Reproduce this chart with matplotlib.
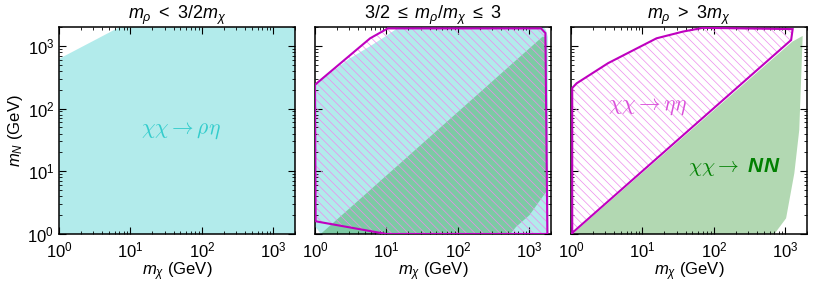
import matplotlib
matplotlib.use("Agg")
import matplotlib.pyplot as plt
import numpy as np

plt.rcParams['font.family'] = ['Liberation Sans', 'DejaVu Sans']
plt.rcParams['mathtext.fontset'] = 'custom'
plt.rcParams['mathtext.rm'] = 'Liberation Sans'
plt.rcParams['mathtext.it'] = 'Liberation Sans:italic'
plt.rcParams['mathtext.bf'] = 'Liberation Sans:bold'
plt.rcParams['hatch.linewidth'] = 0.5

# ---------------- data (m_chi, m_N in GeV) ----------------
titles = [r'$m_\rho\ <\ 3/2m_\chi$', r'$3/2\ \leq\ m_\rho/m_\chi\ \leq\ 3$', r'$m_\rho\ >\ 3m_\chi$']
xlabel = r'$m_\chi$ (GeV)'
ylabel = r'$m_N$ (GeV)'

# panel 1: chi chi -> rho eta (cyan)
p1_rhoeta_x = [1.0, 1.0, 7.1, 2500, 2500]
p1_rhoeta_y = [0.8, 620, 2000, 2500, 0.8]

# panel 2: chi chi -> rho eta (cyan)
p2_rhoeta_x = [1.0, 1.0, 3.0, 6.0, 10.0, 16.0, 1500, 1700, 1800, 1850, 1.29]
p2_rhoeta_y = [1.34, 240, 620, 1000, 1450, 2100, 2100, 1800, 1400, 0.9, 0.9]
# panel 2: chi chi -> NN (green)
p2_NN_x = [1.2, 1520, 1650, 1740, 1780, 1370, 1000, 650, 540]
p2_NN_y = [1.0, 1400, 1380, 1000, 5.0, 3.3, 2.0, 1.3, 1.0]
# panel 2: chi chi -> eta eta (magenta hatched outline)
p2_etaeta_x = [1.02, 1.0, 5.9, 10.4, 1450, 1670, 1780, 10.0, 1.1]
p2_etaeta_y = [1.6, 240, 1320, 1900, 1900, 1600, 1.0, 1.0, 1.57]

# panel 3: chi chi -> eta eta (magenta hatched outline)
p3_etaeta_x = [1.04, 1.04, 1.2, 3.3, 15.7, 36.8, 70, 1260, 1200, 1.0]
p3_etaeta_y = [1.0, 213, 253, 530, 1320, 1690, 1940, 1850, 1240, 1.0]
# panel 3: chi chi -> NN (green)
p3_NN_x = [1.05, 1250, 1740, 1560, 1330, 1020, 700]
p3_NN_y = [1.0, 1170, 1440, 46, 9.3, 1.78, 1.0]

label_rhoeta = (51, 45)
label_etaeta = (11.7, 107)
label_NN = (194, 11.8)

xlim = (1, 2000)
ylim = (1, 2000)

# ---------------- figure ----------------
W, H = 814, 285
fig = plt.figure(figsize=(W / 100, H / 100), dpi=100)
lefts = [59, 315, 571]
axw, bottom, top = 236, 234, 27
axes = []
for l in lefts:
    ax = fig.add_axes([l / W, (H - bottom) / H, axw / W, (bottom - top) / H])
    axes.append(ax)

cyan = 'c'
green = 'green'

def style(ax, i):
    ax.set_xscale('log')
    ax.set_yscale('log')
    ax.set_xlim(*xlim)
    ax.set_ylim(*ylim)
    ax.set_xticks([1, 10, 100, 1000])
    ax.set_yticks([1, 10, 100, 1000])
    ax.tick_params(which='both', direction='in', top=True, right=True, labelsize=12)
    ax.tick_params(which='major', length=5, width=0.8)
    ax.tick_params(which='minor', length=2.5, width=0.6)
    ax.tick_params(axis='x', which='major', pad=5)
    for s in ax.spines.values():
        s.set_linewidth(1.1)
    ax.set_title(titles[i], fontsize=13, pad=3)
    ax.set_xlabel(xlabel, fontsize=12, labelpad=0)
    if i == 0:
        ax.set_ylabel(ylabel, fontsize=12, labelpad=2)
    else:
        ax.tick_params(axis='y', which='both', labelleft=False)

def hatched(ax, xs, ys):
    ax.fill(xs, ys, facecolor='none', edgecolor=(0.93, 0.55, 0.93), hatch='\\\\\\\\', linewidth=0, zorder=3)
    ax.fill(xs, ys, facecolor='none', edgecolor='m', linewidth=1.5, zorder=4)

# panel 1
ax = axes[0]
ax.fill(p1_rhoeta_x, p1_rhoeta_y, color=cyan, alpha=0.3, lw=0, zorder=1)
ax.text(*label_rhoeta, r'$\chi\chi\rightarrow\rho\eta$', color=(0.2, 0.8, 0.8), fontsize=15.5,
        ha='center', va='center', math_fontfamily='cm')
style(ax, 0)

# panel 2
ax = axes[1]
ax.fill(p2_rhoeta_x, p2_rhoeta_y, color=cyan, alpha=0.3, lw=0, zorder=1)
ax.fill(p2_NN_x, p2_NN_y, color=green, alpha=0.3, lw=0, zorder=2)
hatched(ax, p2_etaeta_x, p2_etaeta_y)
style(ax, 1)

# panel 3
ax = axes[2]
ax.fill(p3_NN_x, p3_NN_y, color=green, alpha=0.3, lw=0, zorder=1)
hatched(ax, p3_etaeta_x, p3_etaeta_y)
ax.text(*label_etaeta, r'$\chi\chi\rightarrow\eta\eta$', color=(0.85, 0.3, 0.85), fontsize=15.5,
        ha='center', va='center', math_fontfamily='cm', zorder=5)
ax.text(*label_NN, r'$\chi\chi\rightarrow$ NN', color='green', fontsize=15,
        ha='center', va='center', math_fontfamily='cm', fontweight='bold', fontstyle='italic', zorder=5)
style(ax, 2)

fig.savefig('out.png', dpi=100)
